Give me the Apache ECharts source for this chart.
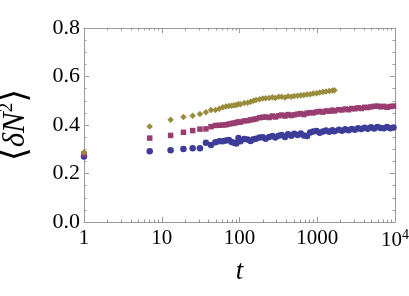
<!DOCTYPE html>
<html><head><meta charset="utf-8">
<script src="https://cdn.jsdelivr.net/npm/echarts@6/dist/echarts.min.js"></script>
<style>html,body{margin:0;padding:0;background:#fff}#c{width:409px;height:296px}</style>
</head><body><div id="c"></div>
<script>
// time samples (t)
var times = [1, 7, 13, 19, 25, 31, 37, 43, 49, 55, 61, 67, 73, 79, 85, 91, 97, 103, 115, 127, 139, 151, 163, 181, 199, 217, 241, 265, 289, 319, 349, 385, 421, 463, 505, 559, 613, 673, 739, 811, 889, 979, 1075, 1183, 1297, 1429, 1567, 1663, 1897, 2083, 2293, 2521, 2773, 3049, 3355, 3691, 4063, 4465, 4909, 5401, 5941, 6535, 7189, 7909, 8701, 9571];
var blueVals = [0.270, 0.292, 0.296, 0.301, 0.304, 0.304, 0.327, 0.318, 0.329, 0.333, 0.333, 0.336, 0.338, 0.330, 0.327, 0.324, 0.346, 0.333, 0.342, 0.340, 0.334, 0.341, 0.343, 0.348, 0.349, 0.343, 0.351, 0.355, 0.348, 0.356, 0.359, 0.351, 0.362, 0.356, 0.364, 0.359, 0.365, 0.357, 0.355, 0.369, 0.373, 0.375, 0.368, 0.373, 0.377, 0.372, 0.378, 0.374, 0.380, 0.376, 0.382, 0.378, 0.384, 0.380, 0.387, 0.383, 0.389, 0.385, 0.391, 0.386, 0.392, 0.388, 0.387, 0.392, 0.387, 0.390];
var magentaVals = [0.280, 0.346, 0.357, 0.370, 0.377, 0.383, 0.384, 0.393, 0.398, 0.399, 0.400, 0.401, 0.404, 0.406, 0.408, 0.410, 0.413, 0.412, 0.417, 0.418, 0.421, 0.423, 0.425, 0.430, 0.432, 0.433, 0.431, 0.437, 0.433, 0.438, 0.441, 0.437, 0.443, 0.439, 0.442, 0.445, 0.447, 0.443, 0.449, 0.451, 0.450, 0.454, 0.456, 0.453, 0.458, 0.457, 0.461, 0.458, 0.463, 0.462, 0.466, 0.463, 0.468, 0.467, 0.471, 0.468, 0.473, 0.472, 0.475, 0.477, 0.478, 0.475, 0.477, 0.473, 0.476, 0.478];
var goldVals = [0.288, 0.394, 0.422, 0.433, 0.438, 0.445, 0.453, 0.462, 0.462, 0.467, 0.473, 0.476, 0.478, 0.479, 0.481, 0.482, 0.487, 0.486, 0.491, 0.492, 0.496, 0.500, 0.503, 0.506, 0.509, 0.510, 0.511, 0.514, 0.511, 0.516, 0.517, 0.513, 0.519, 0.516, 0.520, 0.521, 0.523, 0.524, 0.526, 0.527, 0.530, 0.531, 0.534, 0.536, 0.538, 0.540, 0.542, 0.543];
var xMajorTicks = [1, 10, 100, 1000, 10000];
var xMinorTicks = [2,3,4,5,6,7,8,9,20,30,40,50,60,70,80,90,200,300,400,500,600,700,800,900,2000,3000,4000,5000,6000,7000,8000,9000];
var yTicks = [0.0, 0.2, 0.4, 0.6, 0.8];

function pairs(vals){ return vals.map(function(v,i){ return [times[i], v]; }); }

var serif = "'Liberation Serif','DejaVu Serif',serif";
var frame = '#999999';
var chart = echarts.init(document.getElementById('c'), null, {renderer:'canvas'});

function xAxisDef(pos, minor, showLabels){
  return {
    type:'log', logBase:10, min:1, max:10000, position:pos,
    axisLine:{show: !minor, onZero:false, lineStyle:{color:frame, width:1}},
    axisTick:{show:true, inside:true, length: minor?2.5:5, lineStyle:{color:frame}, customValues: minor? xMinorTicks : xMajorTicks},
    axisLabel:{show: showLabels, customValues: xMajorTicks, margin:6, color:'#000', fontFamily:serif, fontSize:21,
      formatter:function(v){ return v>=10000 ? '10{sup|4}' : String(v); },
      rich:{sup:{fontSize:14, fontFamily:serif, color:'#000', verticalAlign:'top', padding:[0,0,10,0]}}},
    splitLine:{show:false}, minorTick:{show:false}, minorSplitLine:{show:false},
    name: showLabels ? 't' : '', nameLocation:'middle', nameGap:36,
    nameTextStyle:{fontFamily:serif, fontStyle:'italic', fontSize:27, color:'#000'}
  };
}
function yAxisDef(pos, showLabels){
  return {
    type:'value', min:0, max:0.8, interval:0.2, position:pos,
    axisLine:{show:true, onZero:false, lineStyle:{color:frame, width:1}},
    axisTick:{show:true, inside:true, length:5, lineStyle:{color:frame}},
    minorTick:{show:true, splitNumber:4, length:2.5, lineStyle:{color:frame}},
    axisLabel:{show:showLabels, margin:4, color:'#000', fontFamily:serif, fontSize:22,
      formatter:function(v){ return v.toFixed(1); }},
    splitLine:{show:false},
    name: showLabels ? '{b|⟨}{i|δN}{sup|2}{b|⟩}' : '', nameLocation:'middle', nameGap:50, nameRotate:90,
    nameTextStyle:{fontFamily:serif, fontSize:30, color:'#000',
      rich:{b:{fontFamily:serif, fontSize:36, color:'#000'},
            i:{fontFamily:serif, fontStyle:'italic', fontSize:31, color:'#000'},
            sup:{fontFamily:serif, fontSize:19, color:'#000', verticalAlign:'top', padding:[0,0,14,0]}}}
  };
}

chart.setOption({
  animation:false,
  backgroundColor:'#fff',
  grid:{left:84, right:14, top:28, bottom:74, containLabel:false, outerBoundsMode:'none'},
  xAxis:[xAxisDef('bottom', false, true), xAxisDef('bottom', true, false), xAxisDef('top', false, false), xAxisDef('top', true, false)],
  yAxis:[yAxisDef('left', true), yAxisDef('right', false)],
  series:[
    {type:'scatter', xAxisIndex:0, yAxisIndex:0, data:pairs(blueVals), symbol:'circle', symbolSize:6.5, itemStyle:{color:'#3D3D99', opacity:1}},
    {type:'scatter', xAxisIndex:0, yAxisIndex:0, data:pairs(magentaVals), symbol:'rect', symbolSize:5.5, itemStyle:{color:'#993D71', opacity:1}},
    {type:'scatter', xAxisIndex:0, yAxisIndex:0, data:pairs(goldVals), symbol:'diamond', symbolSize:6.5, itemStyle:{color:'#998C3D', opacity:1}}
  ]
});
</script></body></html>
